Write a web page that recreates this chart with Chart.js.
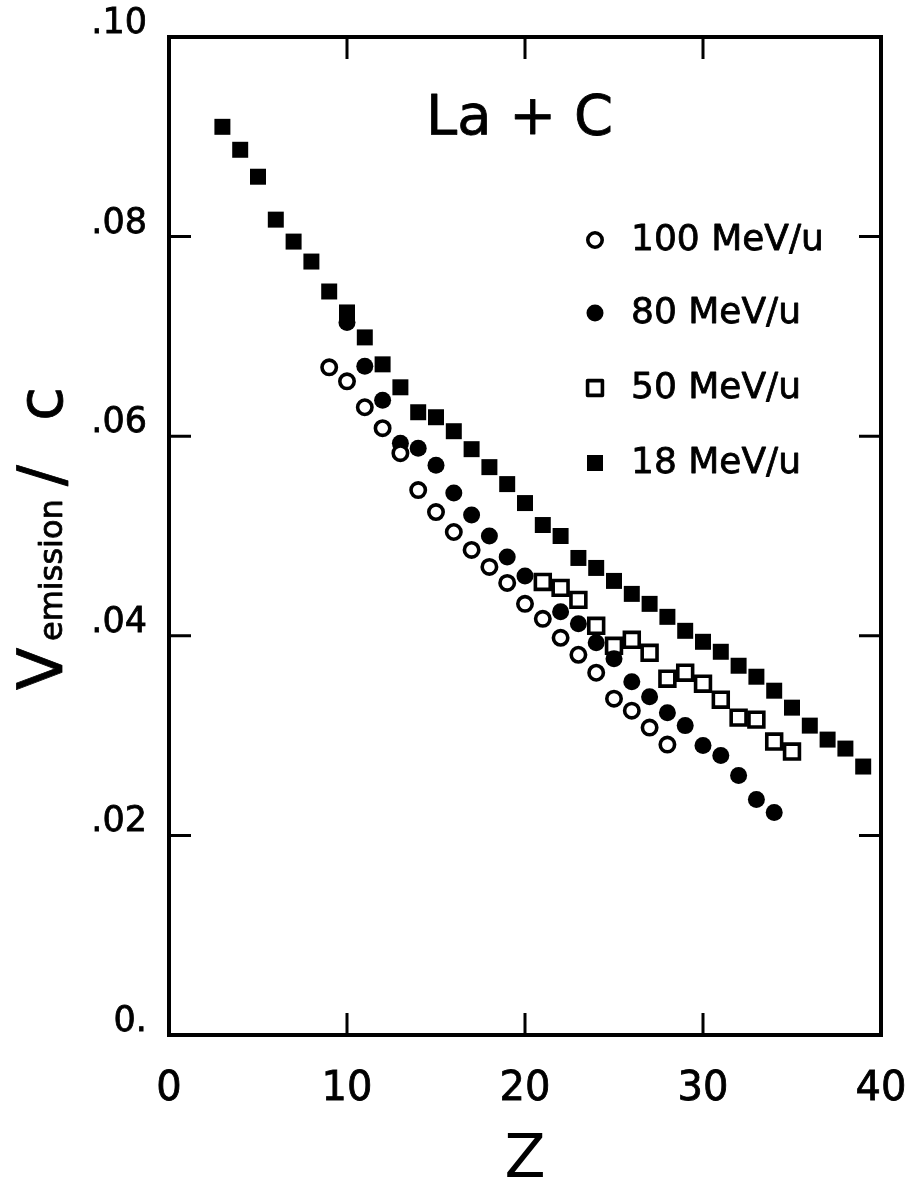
<!DOCTYPE html>
<html><head><meta charset="utf-8">
<script src="https://cdn.jsdelivr.net/npm/chart.js@4.4.0/dist/chart.umd.min.js"></script>
<style>html,body{margin:0;padding:0;background:#fff;}#wrap{width:907px;height:1187px;}</style>
</head><body><div id="wrap"><canvas id="c" width="907" height="1187"></canvas></div>
<script>
// ---- data ----
const seriesLabels = ['100 MeV/u', '80 MeV/u', '50 MeV/u', '18 MeV/u'];
const xTickLabels = ['0', '10', '20', '30', '40'];
const yTickLabels = ['0.', '.02', '.04', '.06', '.08', '.10'];

const z100 = [9,10,11,12,13,14,15,16,17,18,19,20,21,22,23,24,25,26,27,28];
const v100 = [0.0669,0.0655,0.0629,0.0608,0.0583,0.0546,0.0524,0.0504,0.0486,0.0469,0.0453,0.0432,0.0417,0.0398,0.0381,0.0363,0.0337,0.0325,0.0308,0.0291];

const z80 = [10,11,12,13,14,15,16,17,18,19,20,22,23,24,25,26,27,28,29,30,31,32,33,34];
const v80 = [0.0714,0.0670,0.0636,0.0593,0.0588,0.0571,0.0543,0.0521,0.0500,0.0479,0.0460,0.0424,0.0412,0.0393,0.0377,0.0354,0.0339,0.0323,0.0310,0.0290,0.0280,0.0260,0.0236,0.0223];

const z50 = [21,22,23,24,25,26,27,28,29,30,31,32,33,34,35];
const v50 = [0.0454,0.0448,0.0436,0.0410,0.0390,0.0396,0.0383,0.0357,0.0363,0.0352,0.0336,0.0318,0.0316,0.0294,0.0284];

const z18 = [3,4,5,6,7,8,9,10,11,12,13,14,15,16,17,18,19,20,21,22,23,24,25,26,27,28,29,30,31,32,33,34,35,36,37,38,39];
const v18 = [0.0910,0.0887,0.0860,0.0817,0.0795,0.0775,0.0745,0.0724,0.0699,0.0672,0.0649,0.0624,0.0619,0.0605,0.0587,0.0569,0.0552,0.0533,0.0511,0.0500,0.0478,0.0468,0.0455,0.0442,0.0432,0.0419,0.0405,0.0394,0.0384,0.0370,0.0359,0.0345,0.0328,0.0310,0.0296,0.0287,0.0269];

const FONT = "'DejaVu Sans', 'Liberation Sans', sans-serif";
const pts = (zs, vs) => zs.map((z, i) => ({x: z, y: vs[i]}));

const markerStyles = [
  {pointStyle: 'circle', pointRadius: 7.2, pointBackgroundColor: '#fff', pointBorderColor: '#000', pointBorderWidth: 3.6},
  {pointStyle: 'circle', pointRadius: 8.5, pointBackgroundColor: '#000', pointBorderColor: '#000', pointBorderWidth: 0},
  {pointStyle: 'rect', pointRadius: 10.5, pointBackgroundColor: '#fff', pointBorderColor: '#000', pointBorderWidth: 3.6},
  {pointStyle: 'rect', pointRadius: 11.3, pointBackgroundColor: '#000', pointBorderColor: '#000', pointBorderWidth: 0}
];
const seriesData = [pts(z100, v100), pts(z80, v80), pts(z50, v50), pts(z18, v18)];

const datasets = seriesLabels.map((lab, i) => Object.assign({
  label: lab, data: seriesData[i], showLine: false
}, markerStyles[i]));

// ---- plugins ----
const bgPlugin = {
  id: 'bg',
  beforeDraw(chart) {
    const ctx = chart.ctx;
    ctx.save(); ctx.fillStyle = '#fff'; ctx.fillRect(0, 0, chart.width, chart.height); ctx.restore();
  }
};

const framePlugin = {
  id: 'frame',
  afterDraw(chart) {
    const {ctx, chartArea: a, scales: {x, y}} = chart;
    ctx.save();
    ctx.strokeStyle = '#000';
    ctx.lineWidth = 3;
    const tl = 22;
    [10, 20, 30].forEach(v => {
      const px = x.getPixelForValue(v);
      ctx.beginPath();
      ctx.moveTo(px, a.bottom); ctx.lineTo(px, a.bottom - tl);
      ctx.moveTo(px, a.top); ctx.lineTo(px, a.top + tl);
      ctx.stroke();
    });
    [0.02, 0.04, 0.06, 0.08].forEach(v => {
      const py = y.getPixelForValue(v);
      ctx.beginPath();
      ctx.moveTo(a.left, py); ctx.lineTo(a.left + tl, py);
      ctx.moveTo(a.right, py); ctx.lineTo(a.right - tl, py);
      ctx.stroke();
    });
    ctx.lineWidth = 4;
    ctx.strokeRect(a.left, a.top, a.right - a.left, a.bottom - a.top);
    ctx.restore();
  }
};

function drawMarker(ctx, st, cx, cy) {
  ctx.save();
  ctx.fillStyle = st.pointBackgroundColor;
  ctx.strokeStyle = st.pointBorderColor;
  ctx.lineWidth = st.pointBorderWidth;
  ctx.beginPath();
  const r = st.pointRadius;
  if (st.pointStyle === 'circle') {
    ctx.arc(cx, cy, r, 0, Math.PI * 2);
  } else {
    const s = r * Math.SQRT1_2;
    ctx.rect(cx - s, cy - s, 2 * s, 2 * s);
  }
  ctx.fill();
  if (st.pointBorderWidth > 0) ctx.stroke();
  ctx.restore();
}

function boldText(ctx, t, x, y) {
  ctx.fillText(t, x, y);
  ctx.strokeText(t, x, y);
}

const annotPlugin = {
  id: 'annot',
  afterDraw(chart) {
    const ctx = chart.ctx;
    ctx.save();
    ctx.fillStyle = '#000';
    ctx.strokeStyle = '#000';
    ctx.lineWidth = 0.8;
    ctx.lineJoin = 'round';
    // inner title
    ctx.font = '56px ' + FONT;
    ctx.textBaseline = 'alphabetic';
    ctx.textAlign = 'left';
    boldText(ctx, 'La + C', 426, 134);
    // legend
    const rows = [240, 313, 388, 463];
    ctx.font = '36px ' + FONT;
    ctx.textBaseline = 'middle';
    seriesLabels.forEach((lab, i) => {
      drawMarker(ctx, markerStyles[i], 595, rows[i]);
      boldText(ctx, lab, 631, rows[i] + 1);
    });
    // y axis title with subscript
    ctx.save();
    ctx.translate(62, 0);
    ctx.rotate(-Math.PI / 2);
    ctx.textBaseline = 'alphabetic';
    ctx.font = '62px ' + FONT;
    boldText(ctx, 'V', -690, 0);
    ctx.font = '32px ' + FONT;
    boldText(ctx, 'emission', -641, 0);
    ctx.font = '62px ' + FONT;
    boldText(ctx, '/', -486, 0);
    boldText(ctx, 'c', -421, 0);
    ctx.restore();
    ctx.restore();
  }
};

function noPad(s) {
  s.paddingLeft = 0; s.paddingRight = 0; s.paddingTop = 0; s.paddingBottom = 0;
}

new Chart(document.getElementById('c'), {
  type: 'scatter',
  data: {datasets},
  options: {
    responsive: false,
    animation: false,
    devicePixelRatio: 1,
    events: [],
    layout: {padding: {top: 37, right: 26, left: 0, bottom: 0}},
    plugins: {legend: {display: false}, tooltip: {enabled: false}},
    scales: {
      x: {
        type: 'linear', min: 0, max: 40,
        afterFit(s) { s.height = 152; noPad(s); },
        grid: {display: false, drawTicks: false},
        border: {display: false},
        ticks: {
          stepSize: 10, color: '#000', padding: 31,
          textStrokeColor: '#000', textStrokeWidth: 0.8,
          font: {family: FONT, size: 40},
          callback: (v, i) => xTickLabels[i]
        },
        title: {display: true, text: 'Z', color: '#000', font: {family: FONT, size: 60, lineHeight: 0.85}, padding: 0}
      },
      y: {
        type: 'linear', min: 0, max: 0.1,
        afterFit(s) { s.width = 169; noPad(s); },
        grid: {display: false, drawTicks: false},
        border: {display: false},
        ticks: {
          stepSize: 0.02, color: '#000', padding: 22, labelOffset: -13,
          textStrokeColor: '#000', textStrokeWidth: 0.8,
          font: {family: FONT, size: 35},
          callback: (v, i) => yTickLabels[i]
        }
      }
    }
  },
  plugins: [bgPlugin, framePlugin, annotPlugin]
});
</script></body></html>
